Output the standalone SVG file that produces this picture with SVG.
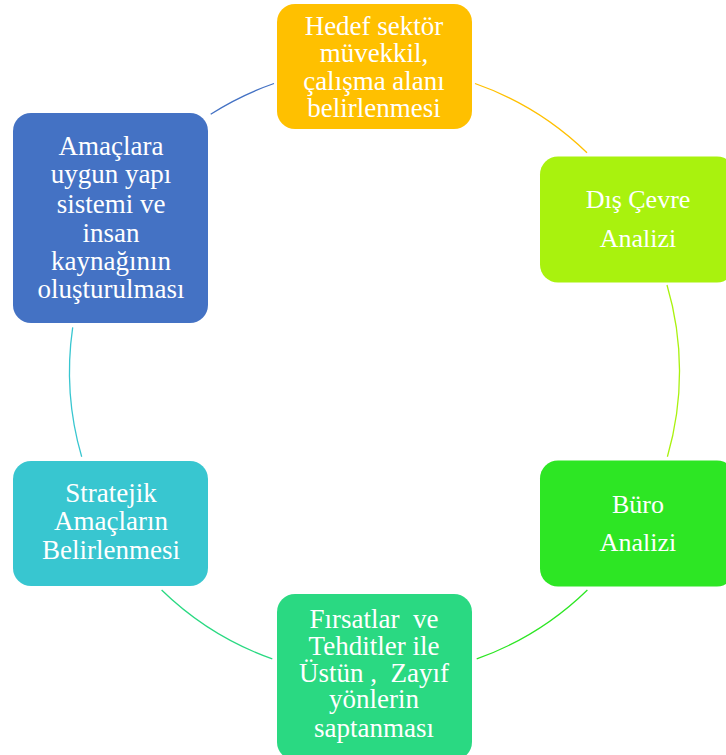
<svg xmlns="http://www.w3.org/2000/svg" width="726" height="755" viewBox="0 0 726 755">
<style>
.t{font-family:"Liberation Serif","Times New Roman",serif;font-size:27px;fill:#ffffff;text-anchor:middle}
.s{font-size:26px}
.c{fill:none;stroke-width:1.3}
</style>
<rect width="726" height="755" fill="#ffffff"/>
<g id="connectors">
<path class="c" stroke="#FFC000" d="M475,83.5 A305,305 0 0 1 587,152.7"/>
<path class="c" stroke="#A9F20E" d="M667,285 A305,305 0 0 1 667.4,456.7"/>
<path class="c" stroke="#2DE624" d="M587.4,590 A305,305 0 0 1 476.7,658.9"/>
<path class="c" stroke="#2AD982" d="M272.3,658.9 A305,305 0 0 1 161.6,590"/>
<path class="c" stroke="#38C6D0" d="M81.7,456.8 A305,305 0 0 1 72.7,327.3"/>
<path class="c" stroke="#4472C4" d="M210.7,114.2 A305,305 0 0 1 274,83.5"/>
</g>
<g id="n1">
<rect x="277" y="4" width="195" height="125" rx="18" fill="#FFC000"/>
<text class="t" x="374" y="35">Hedef sektör</text>
<text class="t" x="374" y="62">müvekkil,</text>
<text class="t" x="374" y="90">çalışma alanı</text>
<text class="t" x="374" y="117">belirlenmesi</text>
</g>
<g id="n2">
<rect x="540" y="156.5" width="195" height="126" rx="18" fill="#A9F20E"/>
<text class="t s" x="638" y="208">Dış Çevre</text>
<text class="t s" x="638" y="247">Analizi</text>
</g>
<g id="n3">
<rect x="540" y="460.5" width="195" height="126" rx="18" fill="#2DE624"/>
<text class="t s" x="638" y="513">Büro</text>
<text class="t s" x="638" y="551">Analizi</text>
</g>
<g id="n4">
<rect x="277" y="594" width="195" height="166" rx="18" fill="#2AD982"/>
<text class="t" x="374" y="628" xml:space="preserve">Fırsatlar  ve</text>
<text class="t" x="374" y="655">Tehditler ile</text>
<text class="t" x="374" y="682" xml:space="preserve">Üstün ,  Zayıf</text>
<text class="t" x="374" y="708">yönlerin</text>
<text class="t" x="374" y="737">saptanması</text>
</g>
<g id="n5">
<rect x="13" y="461" width="195" height="125" rx="18" fill="#38C6D0"/>
<text class="t" x="111" y="502">Stratejik</text>
<text class="t" x="111" y="530">Amaçların</text>
<text class="t" x="111" y="559">Belirlenmesi</text>
</g>
<g id="n6">
<rect x="13" y="113" width="195" height="210" rx="18" fill="#4472C4"/>
<text class="t" x="111" y="155">Amaçlara</text>
<text class="t" x="111" y="183">uygun yapı</text>
<text class="t" x="111" y="213">sistemi ve</text>
<text class="t" x="111" y="242">insan</text>
<text class="t" x="111" y="270">kaynağının</text>
<text class="t" x="111" y="298">oluşturulması</text>
</g>
</svg>
